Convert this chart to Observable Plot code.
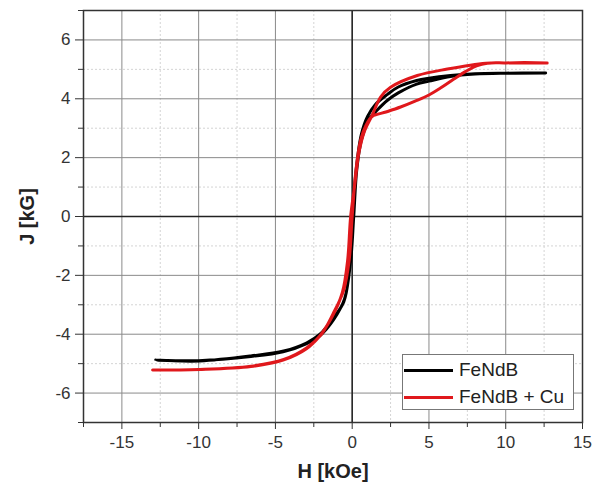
<!DOCTYPE html>
<html>
<head>
<meta charset="utf-8">
<script src="https://cdn.jsdelivr.net/npm/d3@7"></script>
<script src="https://cdn.jsdelivr.net/npm/@observablehq/plot@0.6"></script>
<style>
  body { margin: 0; background: #fff; }
  #wrap { position: relative; width: 598px; height: 489px; font-family: "Liberation Sans", Arial, sans-serif; }
  #wrap [aria-label="x-axis label"] text, #wrap [aria-label="y-axis label"] text { font-weight: bold; font-size: 20px; fill: #222; }
  #legend { position: absolute; left: 402px; top: 354px; width: 172px; height: 56px; background: #fff; border: 1px solid #777; box-sizing: border-box; font-size: 19px; color: #222; }
  .row { position: absolute; left: 1px; height: 22px; display: flex; align-items: center; }
  .sw { width: 49px; height: 3px; margin-right: 6px; }
</style>
</head>
<body>
<div id="wrap"></div>
<script>
// FeNdB loop: descending then ascending branch (H in kOe, J in kG)
const fendbH = [12.6, 10, 8, 6.4, 5, 4.2, 3, 2.3, 1.5, 1.0, 0.6, 0.35, 0.15, 0, -0.22, -0.55, -1.2, -2.1, -2.95, -4.46, -6.6, -9.93, -12.8,
                -10, -6.6, -4.5, -3, -2.1, -1.2, -0.5, -0.1, 0.1, 0.3, 0.6, 1.1, 1.6, 2.3, 3, 4.2, 5, 6.4, 8, 10, 12.6];
const fendbJ = [4.88, 4.87, 4.85, 4.79, 4.7, 4.62, 4.4, 4.15, 3.8, 3.4, 2.8, 2.0, 1.0, 0, -2, -2.9, -3.43, -4.0, -4.29, -4.57, -4.74, -4.91, -4.88,
                -4.9, -4.76, -4.6, -4.33, -4.05, -3.5, -2.8, -1.5, 0, 1.6, 2.6, 3.3, 3.6, 3.95, 4.2, 4.5, 4.6, 4.76, 4.84, 4.87, 4.88];
// FeNdB + Cu loop: ascending then descending branch
const cuH = [-13, -9.93, -6.6, -4.46, -2.95, -2, -1.24, -0.55, -0.2, 0, 0.25, 0.55, 0.9, 1.3, 2.2, 3.15, 4.1, 5, 5.8, 6.6, 7.4, 8.1, 8.8, 10, 12.7,
             10, 8.7, 6.2, 4.24, 2.5, 1.85, 1.3, 0.8, 0.45, 0.15, -0.1, -0.3, -0.65, -1.3, -2.1, -3, -4.5, -6.6, -10, -13];
const cuJ = [-5.22, -5.2, -5.09, -4.86, -4.46, -4.0, -3.3, -2.5, -1.5, 0, 1.6, 2.6, 3.1, 3.4, 3.55, 3.72, 3.92, 4.13, 4.38, 4.66, 4.93, 5.12, 5.21, 5.22, 5.22,
             5.22, 5.21, 5.01, 4.79, 4.39, 4.06, 3.44, 2.9, 2.2, 1.0, 0, -1.5, -2.6, -3.4, -4.05, -4.5, -4.88, -5.1, -5.2, -5.22];
const seriesNames = ["FeNdB", "FeNdB + Cu"];
const seriesColors = ["#000000", "#e0181c"];
const xMajor = [-15, -10, -5, 0, 5, 10, 15];
const xMinor = [-17.5, -12.5, -7.5, -2.5, 2.5, 7.5, 12.5];
const yMajor = [-6, -4, -2, 0, 2, 4, 6];
const yMinor = [-7, -5, -3, -1, 1, 3, 5, 7];

const black = fendbH.map((h, i) => ({H: h, J: fendbJ[i]}));
const red = cuH.map((h, i) => ({H: h, J: cuJ[i]}));
const fmt = d => String(d);

const chart = Plot.plot({
  width: 598, height: 489,
  marginLeft: 83, marginRight: 16, marginTop: 10, marginBottom: 67,
  style: {fontFamily: "'Liberation Sans', Arial, sans-serif", fontSize: "17px", color: "#333", background: "#fff"},
  x: {domain: [-17.5, 15]},
  y: {domain: [-7, 7]},
  marks: [
    Plot.gridX(xMinor, {stroke: "#d4d4d4", strokeOpacity: 1, strokeDasharray: "2,2"}),
    Plot.gridY(yMinor, {stroke: "#d4d4d4", strokeOpacity: 1, strokeDasharray: "2,2"}),
    Plot.gridX(xMajor, {stroke: "#8a8a8a", strokeOpacity: 1}),
    Plot.gridY(yMajor, {stroke: "#8a8a8a", strokeOpacity: 1}),
    Plot.ruleX([0], {stroke: "#222", strokeWidth: 1.5}),
    Plot.ruleY([0], {stroke: "#222", strokeWidth: 1.5}),
    Plot.line(black, {x: "H", y: "J", stroke: seriesColors[0], strokeWidth: 3, curve: "catmull-rom"}),
    Plot.line(red, {x: "H", y: "J", stroke: seriesColors[1], strokeWidth: 3, curve: "catmull-rom"}),
    Plot.frame({stroke: "#333", strokeWidth: 1.5}),
    Plot.axisX(xMinor, {tickSize: 5, text: null, label: null, stroke: "#333"}),
    Plot.axisY(yMinor, {tickSize: 5, text: null, label: null, stroke: "#333"}),
    Plot.axisX(xMajor, {tickSize: 7, tickPadding: 6, tickFormat: fmt, stroke: "#333", fill: "#333", label: "H [kOe]", labelAnchor: "center", labelArrow: "none", labelOffset: 55}),
    Plot.axisY(yMajor, {tickSize: 8, tickPadding: 5, tickFormat: fmt, stroke: "#333", fill: "#333", label: "J [kG]", labelAnchor: "center", labelArrow: "none", labelOffset: 64})
  ]
});
const wrap = document.getElementById("wrap");
wrap.appendChild(chart);

const legend = document.createElement("div");
legend.id = "legend";
seriesNames.forEach((name, i) => {
  const row = document.createElement("div");
  row.className = "row";
  row.style.top = (4 + i * 27) + "px";
  const sw = document.createElement("div");
  sw.className = "sw";
  sw.style.background = seriesColors[i];
  const t = document.createElement("span");
  t.textContent = name;
  row.appendChild(sw); row.appendChild(t);
  legend.appendChild(row);
});
wrap.appendChild(legend);
</script>
</body>
</html>
